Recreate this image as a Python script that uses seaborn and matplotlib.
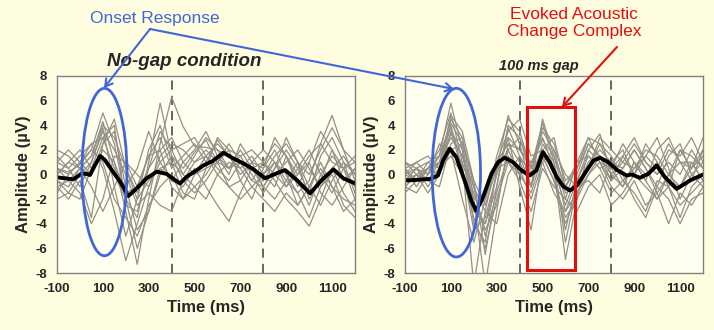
import matplotlib
matplotlib.use("Agg")
import matplotlib.pyplot as plt
from matplotlib.patches import Ellipse, Rectangle, FancyArrowPatch
import pandas as pd
import seaborn as sns

sns.set_theme(style="white")
plt.rcParams["font.family"] = ["Liberation Sans", "DejaVu Sans"]
plt.rcParams["axes.unicode_minus"] = False

# ---- data -------------------------------------------------------------
# sample times (ms) for the individual listener traces
times = [-100, -50, 0, 50, 100, 150, 200, 250, 300, 350, 400, 450, 500, 550,
         600, 650, 700, 750, 800, 850, 900, 950, 1000, 1050, 1100, 1150, 1200]

# individual traces, no-gap condition (µV)
nogap_s01 = [0.5, 0.2, 0.8, 2.0, 5.0, 2.5, -2.0, -3.5, 1.0, 5.8, 1.5, 0.5, 1.8, 2.8, 1.0, 0.5, 2.0, 0.5, -0.5, 1.0, 0.0, -1.5, -0.5, 2.5, 4.8, 2.0, -0.5]
nogap_s02 = [-0.5, -1.0, 0.5, 1.5, 4.3, 1.0, -3.0, -7.3, -2.0, 2.5, 6.3, 3.9, 2.3, 2.2, 2.0, 1.5, 1.0, 0.5, 0.0, -1.0, 1.5, -0.5, -2.5, 0.0, 1.5, 0.5, -1.0]
nogap_s03 = [1.5, 0.5, -1.0, 1.0, 3.8, -1.0, -5.0, -2.0, -0.5, 0.5, -0.5, -1.0, 0.5, -1.0, -2.5, -3.8, -1.5, 0.5, 1.0, -0.5, -2.0, -3.0, -4.2, -2.0, 0.5, -1.5, -3.0]
nogap_s04 = [-1.0, -2.0, -0.5, -3.5, 2.5, 3.5, -1.0, -4.5, -3.0, 0.5, 1.0, -1.5, -2.0, 0.5, 3.0, 2.0, -0.5, -2.0, 0.5, 2.0, 0.0, -2.5, -1.0, 1.0, -1.0, -2.0, -2.5]
nogap_s05 = [0.0, 1.0, 2.0, 0.5, 3.0, 4.0, -2.5, -3.0, 0.5, 2.0, -1.0, -2.0, 0.0, 1.5, 2.5, 1.5, 0.0, 1.0, -1.0, 0.5, 2.0, 0.5, -1.5, 1.5, 3.0, 1.0, 0.0]
nogap_s06 = [1.0, 0.5, 1.5, 2.5, 0.5, -3.0, -7.0, -4.0, -1.0, 1.0, 2.0, 0.0, -1.0, 0.0, 1.5, 0.5, 1.5, 2.0, 1.0, 0.0, -1.0, 0.0, 1.0, -1.5, -2.5, -1.0, 0.5]
nogap_s07 = [-2.0, -1.5, 0.0, 1.0, 3.5, 2.0, 0.0, -2.5, -1.5, -2.5, -3.0, -0.5, 1.0, 2.0, 1.0, -1.0, -2.0, -1.0, 0.0, 1.0, -0.5, -1.5, -3.5, -1.0, 0.0, -2.5, -3.5]
nogap_s08 = [0.5, -0.5, -1.5, -4.0, -2.0, 1.5, 1.0, -1.0, 1.5, 3.0, 0.5, 1.5, 2.5, 1.0, 2.8, 1.5, 0.5, 1.5, 0.0, 1.5, 2.5, 1.0, 0.0, 2.0, 3.8, 2.0, 1.0]
nogap_s09 = [-1.5, 0.0, 1.0, 2.0, 1.0, -2.0, -3.5, -5.0, -2.5, -1.0, 0.0, -2.0, -1.0, -2.0, 0.0, 1.0, 0.5, -1.0, -2.0, -3.0, -1.5, -2.5, -1.0, 0.5, -1.0, -3.0, -2.0]
nogap_s10 = [0.0, 1.0, 0.5, 1.5, 4.0, 3.0, 0.5, -2.0, 2.0, 4.0, 1.0, 0.0, 1.5, 3.0, 2.0, 0.5, 1.0, -0.5, 1.0, 2.5, 1.5, 0.0, 1.5, 2.5, 1.0, 0.5, 1.5]
nogap_s11 = [2.0, 1.5, 0.5, 0.0, 2.0, 1.0, -1.5, -1.0, 1.5, 2.0, 3.0, 1.0, 0.0, 0.5, 1.0, 2.0, 1.5, 0.0, -1.5, 0.0, 1.0, 2.0, 0.5, -1.0, 0.5, 1.5, 0.0]
nogap_s12 = [-1.0, -0.5, 0.5, -1.0, -3.0, -1.0, 1.0, 0.0, -1.0, 1.5, 2.5, 2.0, 1.0, 1.5, 0.5, -0.5, 1.0, 0.5, -1.0, 0.5, 3.0, 1.0, -2.0, -0.5, 2.0, 0.5, -2.0]
nogap_s13 = [1.0, 2.0, 1.0, 0.0, 2.5, 4.5, 0.5, -1.5, 0.5, 3.5, 2.0, 2.5, 3.0, 1.5, 0.0, -1.0, -0.5, 1.0, 2.0, 1.0, -1.0, 0.5, 2.0, 0.0, -1.5, 0.5, 1.0]
nogap_s14 = [-0.5, -1.5, -2.0, 0.5, 1.5, 0.0, -2.0, -6.0, -3.0, 0.0, 1.5, -0.5, -1.5, -0.5, 1.0, 2.5, 1.0, -0.5, -1.0, -2.0, -0.5, 1.0, -1.0, -2.5, -0.5, 1.0, -1.5]
nogap_s15 = [0.5, 0.0, 1.0, 2.5, 3.0, 0.5, -1.0, 0.5, 3.5, 1.0, -0.5, 1.0, 2.0, 3.5, 1.5, 0.0, 2.5, 1.0, 0.5, 3.0, 1.5, -1.0, 1.0, 3.5, 2.0, -0.5, 0.5]

# individual traces, 100 ms gap condition (µV)
gap_s01 = [-0.5, 0.5, 0.0, 1.5, 5.8, 2.0, -4.0, -5.5, 0.5, 4.8, 2.5, -1.0, 4.5, 1.5, -2.0, 1.0, 3.0, 1.0, -0.5, 1.5, 0.0, 2.5, 1.0, -1.0, 2.0, 0.5, 3.0]
gap_s02 = [0.5, -1.0, 0.5, 2.0, 5.0, 1.0, -9.0, -3.0, 1.5, 4.5, 3.5, 0.5, 3.0, 0.5, -6.9, -2.0, 2.0, 3.3, 0.0, -1.0, 1.0, -0.5, -2.0, 0.0, -1.0, 1.0, -0.5]
gap_s03 = [-1.0, 0.0, -0.5, 1.0, 4.5, 3.0, -2.0, -9.0, -3.0, 2.5, 1.0, -1.0, 2.5, 1.0, -5.5, -1.0, 1.0, 2.0, 1.0, 0.5, 2.0, 0.5, -1.0, 1.5, 2.5, 0.0, 1.0]
gap_s04 = [0.0, 0.5, -1.0, 0.5, 4.0, 0.5, -4.5, -3.5, 0.0, 3.0, -1.0, -4.5, 1.5, -0.5, -4.0, -1.5, 0.0, 1.0, -1.0, -2.0, -0.5, -2.5, -1.5, -4.0, -1.5, -2.5, -1.0]
gap_s05 = [-1.5, -0.5, 0.5, 0.0, 3.5, 2.0, -2.5, -4.0, -1.0, 4.0, 3.0, 0.0, 2.0, 3.0, -1.0, 0.5, 2.5, 1.5, 0.5, 2.5, 1.0, -0.5, 2.0, 3.0, 1.0, -0.5, 2.0]
gap_s06 = [0.5, 1.0, 0.0, 1.0, 3.0, 1.5, -1.0, -5.0, -1.5, 1.5, 0.5, -2.0, 1.0, -1.5, -3.0, -0.5, 1.5, 0.5, -1.5, -0.5, -1.5, -3.0, -0.5, -1.0, -3.5, -1.0, 0.0]
gap_s07 = [-1.0, -1.5, 0.0, 2.5, 2.0, -2.0, -5.5, -2.0, 1.0, 3.5, 4.5, 1.5, 2.0, 0.5, -2.5, 0.0, 2.5, 1.5, 0.0, 1.0, 2.5, 1.0, 0.0, 1.0, 0.0, 2.0, 0.5]
gap_s08 = [1.0, 0.0, -0.5, -1.0, 2.5, 3.0, -1.0, -3.0, -4.0, 0.0, 1.5, 0.0, 3.5, 2.0, -1.5, -1.0, 0.5, 2.5, 1.5, -0.5, 0.5, 1.5, 3.0, 0.5, -2.0, 0.0, -1.0]
gap_s09 = [-0.5, 0.5, 1.0, 0.5, 1.5, 0.0, -3.5, -6.0, -2.0, 1.0, -0.5, -3.0, 0.5, -1.0, -2.0, -3.0, -1.0, 0.0, -2.5, -1.5, 0.0, -1.0, -2.0, -1.0, -2.5, -1.5, -0.5]
gap_s10 = [0.0, -0.5, 0.5, 1.5, 4.2, 2.5, -3.0, -2.0, 1.0, 2.5, 2.0, 1.0, 2.8, 1.5, -1.0, 1.0, 1.5, 0.5, 1.0, 2.0, 0.0, 1.5, 0.5, 2.5, 1.0, 0.5, 1.5]
gap_s11 = [1.0, 0.5, -0.5, 0.5, 2.0, 1.0, -2.0, -1.5, 0.5, 1.0, 0.0, -1.5, 1.5, -0.5, -3.5, -2.0, 0.0, 1.5, -0.5, 0.5, 2.0, 0.5, -1.5, 0.0, 1.0, 1.0, -0.5]
gap_s12 = [-0.5, 0.0, 0.5, 1.0, 3.3, 1.5, -1.5, -4.5, -2.5, 2.0, 3.0, 0.5, 3.8, 2.5, -0.5, 0.5, 3.0, 2.5, 0.5, -1.0, 1.0, 0.0, 1.0, -0.5, -1.0, 0.5, 2.0]
gap_s13 = [0.0, 1.0, 1.5, 0.5, 4.8, 3.5, -0.5, -6.5, -1.0, 3.8, 1.5, -1.0, 2.0, 0.0, -4.5, -0.5, 2.0, 1.0, 0.5, 1.5, 3.0, 1.0, 0.0, 2.0, 1.5, 3.0, 1.0]
gap_s14 = [-1.0, 0.0, -1.5, 0.0, 2.0, 2.5, -0.5, -2.5, 0.5, 2.0, 0.0, 1.0, 1.0, 2.0, 0.0, -1.0, -0.5, -1.5, 1.0, 0.0, -2.0, -3.5, -1.0, -2.0, -4.0, -2.0, -1.5]
gap_s15 = [0.5, -0.5, 1.0, 1.5, 3.8, 0.0, -3.0, -4.0, 0.0, 3.0, 2.0, 0.5, 4.2, 1.0, -3.0, -1.5, 0.5, 3.0, 2.0, 1.0, 0.5, 2.0, 1.5, 0.0, 2.0, 1.5, 0.5]

# grand-average waveforms
nogap_avg_t = [-100, -65, -29, -7, 8, 30, 44, 66, 88, 109, 139, 175, 211, 248, 291,
               335, 379, 415, 437, 466, 510, 540, 580, 626, 669, 713, 757, 808,
               851, 895, 946, 1004, 1055, 1106, 1149, 1200]
nogap_avg_v = [-0.23, -0.31, -0.39, -0.12, 0.09, 0.04, -0.04, 0.77, 1.5, 1.18, 0.36,
               -0.58, -1.75, -1.12, -0.31, 0.23, 0.04, -0.45, -0.72, -0.18, 0.36,
               0.75, 1.1, 1.77, 1.31, 0.9, 0.42, -0.31, 0.04, 0.36, -0.45, -1.53,
               -0.45, 0.42, -0.31, -0.72]
gap_avg_t = [-100, -43, 15, 44, 66, 95, 124, 160, 189, 211, 240, 277, 306, 335,
             371, 408, 444, 473, 502, 531, 562, 591, 620, 649, 693, 722, 751,
             787, 824, 867, 889, 925, 962, 998, 1034, 1085, 1143, 1200]
gap_avg_v = [-0.49, -0.43, -0.35, -0.08, 1.14, 2.1, 1.41, -0.49, -2.12, -2.94,
             -1.85, 0.06, 1.0, 1.36, 1.0, 0.33, -0.08, 0.33, 1.82, 1.0, -0.22,
             -0.98, -1.3, -0.9, 0.33, 1.14, 1.36, 1.0, 0.38, -0.08, 0.0, -0.27,
             0.06, 0.73, -0.22, -1.17, -0.49, 0.0]

x_ticks = [-100, 100, 300, 500, 700, 900, 1100]
y_ticks = [-8, -6, -4, -2, 0, 2, 4, 6, 8]
marker_times = [400, 800]

panel_titles = ["No-gap condition", "100 ms gap"]
x_label = "Time (ms)"
y_label = "Amplitude (\u00b5V)"
onset_label = "Onset Response"
acc_label = "Evoked Acoustic\nChange Complex"

nogap_traces = [nogap_s01, nogap_s02, nogap_s03, nogap_s04, nogap_s05,
                nogap_s06, nogap_s07, nogap_s08, nogap_s09, nogap_s10,
                nogap_s11, nogap_s12, nogap_s13, nogap_s14, nogap_s15]
gap_traces = [gap_s01, gap_s02, gap_s03, gap_s04, gap_s05, gap_s06, gap_s07,
              gap_s08, gap_s09, gap_s10, gap_s11, gap_s12, gap_s13, gap_s14,
              gap_s15]


def long_form(traces):
    rows = []
    for i, tr in enumerate(traces):
        for t, v in zip(times, tr):
            rows.append({"subject": i, "time": t, "amp": v})
    return pd.DataFrame(rows)


# ---- figure -------------------------------------------------------------
W, H = 714, 330
FIG_BG = "#FEFDE0"
AX_BG = "#FFFFF0"
TRACE = "#958F86"
BLUE = "#4266D8"
RED = "#E01010"

fig = plt.figure(figsize=(W / 100, H / 100), dpi=100, facecolor=FIG_BG)


def fx(px):
    return px / W


def fy(py):
    return 1 - py / H


ax_l = fig.add_axes([fx(57), fy(273), fx(298), (273 - 76) / H])
ax_r = fig.add_axes([fx(405), fy(273), fx(298), (273 - 76) / H])

panels = [
    (ax_l, nogap_traces, nogap_avg_t, nogap_avg_v),
    (ax_r, gap_traces, gap_avg_t, gap_avg_v),
]

for ax, traces, avg_t, avg_v in panels:
    ax.set_facecolor(AX_BG)
    df = long_form(traces)
    sns.lineplot(data=df, x="time", y="amp", units="subject", estimator=None,
                 color=TRACE, linewidth=0.9, ax=ax, legend=False)
    sns.lineplot(x=avg_t, y=avg_v, color="black", linewidth=2.8, ax=ax)
    for mt in marker_times:
        ax.axvline(mt, color="#3c3c3c", linewidth=1.1, dashes=(6, 4), zorder=1)
    ax.set_xlim(-100, 1200)
    ax.set_ylim(-8, 8)
    ax.set_xticks(x_ticks)
    ax.set_yticks(y_ticks)
    ax.tick_params(axis="both", direction="out", length=3, width=1,
                   color="#808080", labelsize=9.5, pad=4)
    for lab in ax.get_xticklabels() + ax.get_yticklabels():
        lab.set_fontweight("bold")
    for sp in ax.spines.values():
        sp.set_color("#808080")
        sp.set_linewidth(1.0)
    ax.set_xlabel(x_label, fontsize=12, fontweight="bold", labelpad=4)
    ax.set_ylabel(y_label, fontsize=12, fontweight="bold", labelpad=3)

ax_l.set_title(panel_titles[0], fontsize=13.5, fontweight="bold", style="italic",
               x=0.426, pad=7)
ax_r.set_title(panel_titles[1], fontsize=10.5, fontweight="bold", style="italic",
               x=0.45, pad=4)

# onset-response ellipses
ax_l.add_patch(Ellipse((107, 0.2), 196, 13.6, fill=False, edgecolor=BLUE,
                       linewidth=2.0, zorder=5))
ax_r.add_patch(Ellipse((124, 0.15), 211, 13.7, fill=False, edgecolor=BLUE,
                       linewidth=2.0, zorder=5))

# acoustic change complex box
ax_r.add_patch(Rectangle((432, -7.75), 210, 13.22, fill=False, edgecolor=RED,
                         linewidth=2.2, zorder=5))

# callout labels and arrows
fig.text(fx(155), fy(18), onset_label, color=BLUE, fontsize=12.5,
         ha="center", va="center")
fig.text(fx(574), fy(23), acc_label, color=RED, fontsize=12.5,
         ha="center", va="center", linespacing=1.15)

for start, end, col in [((150, 29), (104, 88), BLUE),
                        ((150, 29), (454, 89), BLUE),
                        ((617, 47), (562, 107), RED)]:
    arr = FancyArrowPatch((fx(start[0]), fy(start[1])), (fx(end[0]), fy(end[1])),
                          transform=fig.transFigure,
                          arrowstyle="->,head_length=5,head_width=3",
                          color=col, linewidth=1.5, shrinkA=0, shrinkB=0, zorder=10)
    fig.add_artist(arr)

fig.savefig("out.png", dpi=100, facecolor=FIG_BG)
